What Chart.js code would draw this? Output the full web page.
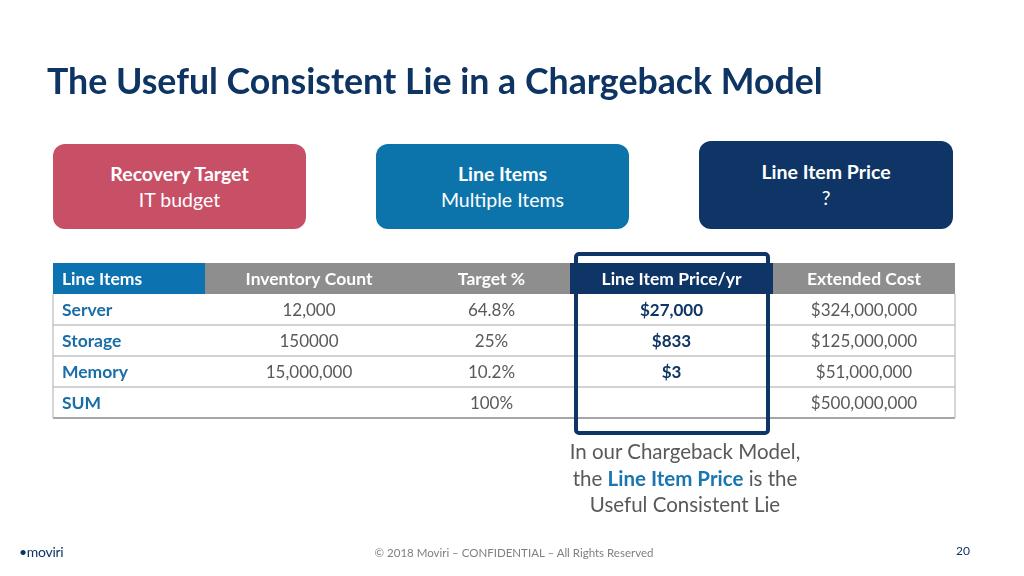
<!DOCTYPE html>
<html>
<head>
<meta charset="utf-8">
<script src="https://cdn.jsdelivr.net/npm/chart.js@4.4.0/dist/chart.umd.min.js"></script>
<style>
  html, body { margin: 0; padding: 0; background: #fff; }
  body { width: 1024px; height: 576px; position: relative; overflow: hidden; font-family: Lato, "Open Sans", sans-serif; }
  #table { position: absolute; left: 0; top: 0; }
  .title { position: absolute; left: 47px; top: 59px; font-size: 35.7px; font-weight: 700; color: #0e3463; white-space: nowrap; }
  .box { position: absolute; border-radius: 12px; color: #fff; display: flex; flex-direction: column; justify-content: center; align-items: center; font-size: 19.5px; line-height: 26px; }
  .box b { font-weight: 700; }
  .caption { position: absolute; left: 485px; width: 400px; top: 438px; text-align: center; font-size: 20.5px; line-height: 26.5px; color: #595959; }
  .caption b { color: #1a75b0; }
  .footer { position: absolute; top: 546px; left: 0; width: 1028px; text-align: center; font-size: 11.5px; color: #7f7f7f; }
  .page { position: absolute; left: 956px; top: 543px; font-size: 12px; color: #0e3463; }
  .logo { position: absolute; left: 19px; top: 543px; font-size: 14px; color: #0e3463; letter-spacing: -0.3px; }
</style>
</head>
<body>
<canvas id="table" width="1024" height="576"></canvas>
<div class="title">The Useful Consistent Lie in a Chargeback Model</div>
<div class="box" style="left:53px;top:144px;width:253px;height:85px;background:#c74f66"><b>Recovery Target</b><span>IT budget</span></div>
<div class="box" style="left:376px;top:144px;width:253px;height:85px;background:#0d74ab"><b>Line Items</b><span>Multiple Items</span></div>
<div class="box" style="left:699px;top:141px;width:254px;height:88px;background:#0e3565"><b>Line Item Price</b><span>?</span></div>
<div class="caption">In our Chargeback Model,<br>the <b>Line Item Price</b> is the<br>Useful Consistent Lie</div>
<div class="footer">© 2018 Moviri – CONFIDENTIAL – All Rights Reserved</div>
<div class="page">20</div>
<div class="logo">•moviri</div>
<script>
// Datos de la tabla
const columns = ['Line Items', 'Inventory Count', 'Target %', 'Line Item Price/yr', 'Extended Cost'];
const lineItems = ['Server', 'Storage', 'Memory', 'SUM'];
const inventoryCount = ['12,000', '150000', '15,000,000', ''];
const targetPct = ['64.8%', '25%', '10.2%', '100%'];
const linePrice = ['$27,000', '$833', '$3', ''];
const extendedCost = ['$324,000,000', '$125,000,000', '$51,000,000', '$500,000,000'];

// Bordes de columna (en px relativos a la tabla)
const colEdges = [0, 152, 360, 517, 720, 902];
const rowNames = ['header'].concat(lineItems);

const tablePlugin = {
    id: 'tablePlugin',
    afterDatasetsDraw(chart) {
        const ctx = chart.ctx;
        const x = chart.scales.x;
        const y = chart.scales.y;
        const rowH = y.height / rowNames.length;
        const top = i => y.getPixelForValue(i) - rowH / 2;
        const left = c => x.getPixelForValue(colEdges[c]);
        const body = [lineItems, inventoryCount, targetPct, linePrice, extendedCost];

        ctx.save();
        ctx.textBaseline = 'middle';
        // Encabezado
        columns.forEach((col, c) => {
            ctx.fillStyle = c === 0 ? '#0c73b0' : (c === 3 ? '#0e3565' : '#8e8e8e');
            ctx.fillRect(left(c), top(0), left(c + 1) - left(c), rowH);
            ctx.fillStyle = '#fff';
            ctx.font = 'bold 17.5px Lato';
            if (c === 0) {
                ctx.textAlign = 'left';
                ctx.fillText(col, left(c) + 9, top(0) + rowH / 2 + 1);
            } else {
                ctx.textAlign = 'center';
                ctx.fillText(col, (left(c) + left(c + 1)) / 2, top(0) + rowH / 2 + 1);
            }
        });

        // Filas
        lineItems.forEach((_, r) => {
            const ry = top(r + 1);
            body.forEach((vals, c) => {
                const txt = vals[r];
                if (!txt) return;
                if (c === 0) {
                    ctx.font = 'bold 17.5px Lato';
                    ctx.fillStyle = '#1a6ea8';
                    ctx.textAlign = 'left';
                    ctx.fillText(txt, left(c) + 9, ry + rowH / 2 + 1);
                } else {
                    ctx.font = (c === 3 ? 'bold ' : '') + '17px Lato';
                    ctx.fillStyle = c === 3 ? '#0e3565' : '#595959';
                    ctx.textAlign = 'center';
                    ctx.fillText(txt, (left(c) + left(c + 1)) / 2, ry + rowH / 2 + 1);
                }
            });
            ctx.strokeStyle = r === lineItems.length - 1 ? '#a6a6a6' : '#c3c3c3';
            ctx.lineWidth = r === lineItems.length - 1 ? 2 : 1.5;
            ctx.beginPath();
            ctx.moveTo(left(0), ry + rowH);
            ctx.lineTo(left(columns.length), ry + rowH);
            ctx.stroke();
        });

        // Bordes laterales
        ctx.strokeStyle = '#c8c8c8';
        ctx.lineWidth = 1.5;
        ctx.beginPath();
        ctx.moveTo(left(0), top(1));
        ctx.lineTo(left(0), top(rowNames.length));
        ctx.moveTo(left(columns.length), top(1));
        ctx.lineTo(left(columns.length), top(rowNames.length));
        ctx.stroke();

        // Recuadro resaltado de la columna de precio
        ctx.strokeStyle = '#0e3565';
        ctx.lineWidth = 4;
        ctx.lineJoin = 'round';
        ctx.beginPath();
        ctx.roundRect(left(3) + 6, top(0) - 9, left(4) - left(3) - 11, top(rowNames.length) - top(0) + 24, 3);
        ctx.stroke();
        ctx.restore();
    }
};

new Chart(document.getElementById('table'), {
    type: 'bar',
    data: {
        labels: rowNames,
        datasets: [{ data: [] }]
    },
    options: {
        indexAxis: 'y',
        responsive: false,
        animation: false,
        devicePixelRatio: 1,
        layout: { padding: { left: 53, right: 69, top: 263, bottom: 158 } },
        plugins: { legend: { display: false }, tooltip: { enabled: false } },
        scales: {
            x: { type: 'linear', min: 0, max: colEdges[colEdges.length - 1], display: false },
            y: { type: 'category', offset: true, display: false }
        }
    },
    plugins: [tablePlugin]
});
</script>
</body>
</html>
